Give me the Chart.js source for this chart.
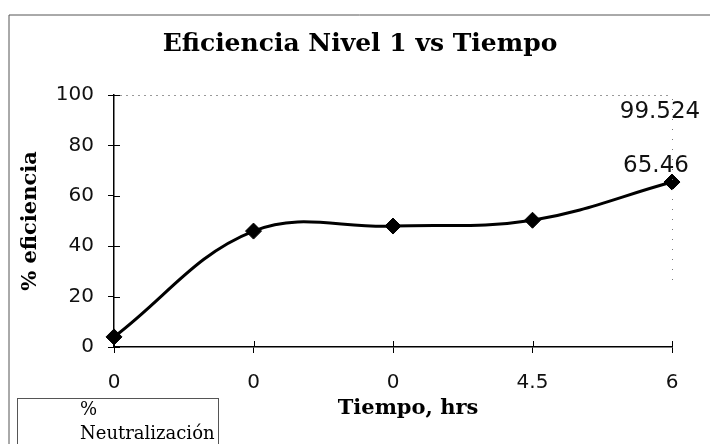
<!DOCTYPE html>
<html>
<head>
<meta charset="utf-8">
<script src="https://cdn.jsdelivr.net/npm/chart.js@4/dist/chart.umd.min.js"></script>
<style>
html,body{margin:0;padding:0;background:#fff;}
</style>
</head>
<body>
<canvas id="myChart" width="710" height="444"></canvas>
<script>
// data
const tiempo = ['0', '0', '0', '4.5', '6'];
const eficiencia = [4, 46, 48, 50.3, 65.46];
const neutralizacion = [null, null, null, null, 99.524];
const yTicks = [0, 20, 40, 60, 80, 100];

const titulo = 'Eficiencia Nivel 1 vs Tiempo';
const tituloY = '% eficiencia';
const tituloX = 'Tiempo, hrs';

const tickFont = {family: 'DejaVu Sans', size: 20};

// frame, titles, legend box, inner tick marks and value labels
const decor = {
  id: 'decor',
  beforeDraw(chart) {
    const c = chart.ctx;
    c.save();
    c.fillStyle = '#fff';
    c.fillRect(0, 0, chart.width, chart.height);
    c.restore();
  },
  afterDatasetsDraw(chart) {
    const c = chart.ctx;
    const a = chart.chartArea;
    const xs = chart.scales.x, ys = chart.scales.y;
    c.save();

    // outer frame (left + top)
    c.strokeStyle = '#555';
    c.lineWidth = 1;
    c.beginPath();
    c.moveTo(9, 444);
    c.lineTo(9, 15);
    c.lineTo(710, 15);
    c.stroke();

    // dotted top grid line at 100
    c.strokeStyle = '#999';
    c.setLineDash([2, 4]);
    c.beginPath();
    c.moveTo(a.left, ys.getPixelForValue(100) + 0.5);
    c.lineTo(a.right, ys.getPixelForValue(100) + 0.5);
    c.stroke();
    // dotted right edge
    c.strokeStyle = '#777';
    c.setLineDash([1, 9]);
    c.beginPath();
    c.moveTo(a.right + 0.5, a.top + 4);
    c.lineTo(a.right + 0.5, 285);
    c.stroke();
    c.setLineDash([]);

    // tick marks crossing to the inside
    c.strokeStyle = '#000';
    c.lineWidth = 1;
    c.beginPath();
    ys.ticks.forEach((t, i) => {
      const y = Math.round(ys.getPixelForTick(i)) + 0.5;
      c.moveTo(a.left, y);
      c.lineTo(a.left + 6, y);
    });
    xs.ticks.forEach((t, i) => {
      const x = Math.round(xs.getPixelForTick(i)) + 0.5;
      c.moveTo(x, a.bottom);
      c.lineTo(x, a.bottom - 6);
    });
    c.stroke();

    // value labels
    c.fillStyle = '#111';
    c.font = '23px "DejaVu Sans"';
    c.textAlign = 'center';
    c.textBaseline = 'middle';
    const p1 = chart.getDatasetMeta(0).data[4];
    c.fillText(eficiencia[4].toString(), p1.x - 16, p1.y - 16);
    const p2 = chart.getDatasetMeta(1).data[4];
    c.fillText(neutralizacion[4].toString(), p2.x - 12, p2.y + 16);

    // title
    c.fillStyle = '#000';
    c.font = 'bold 25px "DejaVu Serif"';
    c.textBaseline = 'alphabetic';
    c.fillText(titulo, 360, 51);

    // axis titles
    c.font = 'bold 21px "DejaVu Serif"';
    c.textBaseline = 'middle';
    c.fillText(tituloX, 408, 409);
    c.save();
    c.translate(31, (a.top + a.bottom) / 2);
    c.rotate(-Math.PI / 2);
    c.fillText(tituloY, 0, 0);
    c.restore();

    // legend box
    c.strokeStyle = '#555';
    c.strokeRect(17.5, 398.5, 201, 50);
    c.font = '18px "DejaVu Serif"';
    c.textAlign = 'left';
    c.fillStyle = '#000';
    c.fillText('%', 80, 410);
    c.fillText(chart.data.datasets[1].label.replace('% ', ''), 80, 434);

    c.restore();
  }
};

const ctx = document.getElementById('myChart');

new Chart(ctx, {
  type: 'line',
  data: {
    labels: tiempo,
    datasets: [{
      label: '% eficiencia',
      data: eficiencia,
      borderColor: '#000',
      backgroundColor: '#000',
      borderWidth: 3,
      tension: 0.38,
      pointStyle: 'rectRot',
      pointRadius: 8,
      pointBorderWidth: 1,
      clip: false
    }, {
      label: '% Neutralización',
      data: neutralizacion,
      showLine: false,
      pointRadius: 0,
      borderColor: '#000',
      backgroundColor: '#000'
    }]
  },
  options: {
    responsive: false,
    animation: false,
    events: [],
    layout: {padding: {top: 95, right: 38, left: 0, bottom: 0}},
    plugins: {
      legend: {display: false},
      tooltip: {enabled: false},
      title: {display: false}
    },
    scales: {
      x: {
        offset: false,
        grid: {drawOnChartArea: false, tickLength: 6, color: '#000'},
        border: {color: '#000', width: 1.5},
        ticks: {font: tickFont, color: '#111', padding: 18, maxRotation: 0, autoSkip: false},
        afterFit(s) { s.height = 97; }
      },
      y: {
        min: 0,
        max: 100,
        grid: {drawOnChartArea: false, tickLength: 6, color: '#000'},
        border: {color: '#000', width: 1.5},
        ticks: {font: tickFont, color: '#111', padding: 14},
        afterBuildTicks(s) { s.ticks = yTicks.map(v => ({value: v})); },
        afterFit(s) { s.width = 114; }
      }
    }
  },
  plugins: [decor]
});
</script>
</body>
</html>
